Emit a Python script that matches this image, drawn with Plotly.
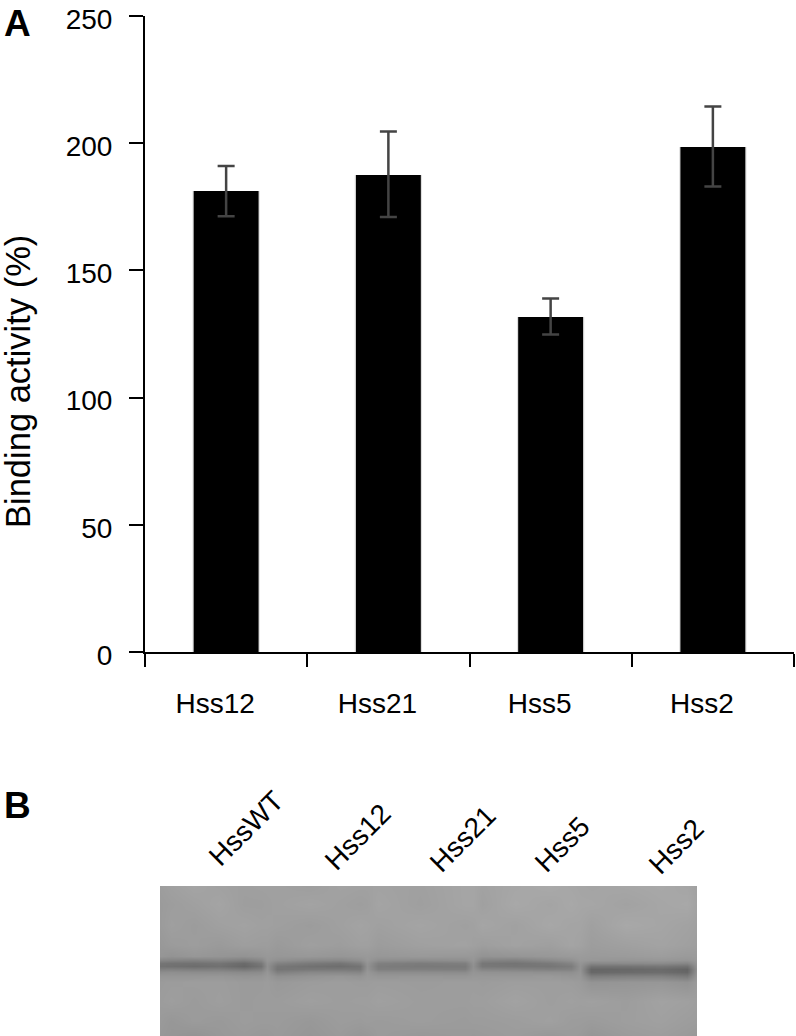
import plotly.graph_objects as go

W, H = 796, 1036

categories = ["Hss12", "Hss21", "Hss5", "Hss2"]
values = [181.2, 187.5, 131.7, 198.5]
err_upper = [191.0, 204.6, 139.0, 214.4]
err_lower = [171.3, 171.0, 124.8, 183.0]
y_ticks = [0, 50, 100, 150, 200, 250]

blot_labels = ["HssWT", "Hss12", "Hss21", "Hss5", "Hss2"]

blot_x = [161, 172, 195, 220, 245, 262, 268, 278, 310, 340, 360, 367, 378,
          420, 465, 473, 482, 515, 550, 570, 579, 590, 625, 660, 686, 696]
blot_y = [887, 905, 925, 945, 956, 960, 963, 966, 969, 972, 976, 982, 1000, 1020, 1035]
blot_grey = [
    [157, 160, 164, 161, 159, 160, 160, 160, 158, 162, 161, 161, 162, 160, 165, 165, 162, 166, 169, 166, 165, 164, 166, 168, 165, 161],
    [155, 157, 160, 164, 158, 158, 159, 160, 163, 160, 158, 159, 164, 159, 165, 165, 160, 168, 164, 168, 166, 166, 162, 166, 168, 162],
    [155, 159, 156, 160, 162, 160, 160, 159, 156, 160, 163, 162, 160, 164, 160, 161, 165, 161, 167, 164, 164, 160, 168, 165, 162, 160],
    [152, 155, 157, 154, 158, 157, 157, 154, 159, 157, 160, 160, 156, 160, 162, 160, 158, 162, 159, 164, 162, 157, 160, 163, 160, 158],
    [150, 147, 151, 149, 147, 150, 152, 151, 152, 150, 152, 153, 151, 153, 152, 152, 147, 149, 152, 154, 155, 154, 155, 157, 154, 155],
    [134, 132, 130, 133, 127, 136, 150, 144, 138, 136, 143, 152, 142, 140, 143, 150, 132, 129, 138, 145, 153, 151, 149, 151, 149, 153],
    [118, 115, 114, 117, 107, 121, 146, 130, 122, 117, 128, 148, 128, 124, 127, 146, 119, 116, 122, 132, 149, 136, 138, 139, 134, 150],
    [114, 113, 109, 113, 103, 115, 144, 119, 113, 110, 116, 146, 124, 121, 122, 144, 120, 118, 118, 124, 147, 116, 116, 119, 114, 148],
    [128, 129, 126, 127, 120, 127, 146, 117, 120, 121, 120, 148, 127, 127, 126, 146, 133, 131, 128, 130, 147, 102, 104, 107, 100, 146],
    [141, 143, 141, 141, 138, 140, 150, 128, 136, 136, 134, 151, 141, 141, 140, 149, 146, 145, 144, 143, 149, 104, 107, 109, 103, 148],
    [150, 150, 150, 151, 148, 149, 153, 144, 148, 151, 148, 153, 150, 151, 150, 152, 152, 152, 153, 150, 151, 126, 129, 130, 122, 151],
    [155, 156, 157, 157, 155, 155, 156, 153, 156, 157, 156, 156, 157, 156, 157, 157, 156, 158, 158, 157, 155, 148, 150, 151, 147, 155],
    [156, 158, 155, 158, 155, 156, 156, 156, 159, 157, 158, 158, 160, 157, 157, 158, 158, 162, 158, 160, 159, 160, 157, 162, 160, 158],
    [154, 151, 155, 153, 156, 155, 155, 155, 152, 156, 155, 156, 155, 157, 155, 156, 156, 157, 160, 156, 156, 155, 158, 160, 157, 156],
    [152, 150, 147, 152, 154, 152, 152, 154, 150, 154, 150, 151, 155, 152, 154, 153, 154, 156, 152, 155, 154, 150, 155, 157, 154, 152],
]

font = "Liberation Sans, Arial, Helvetica, sans-serif"
ink = "#000000"


def px(x):
    return x / W


def py(y):
    return 1 - y / H


fig = go.Figure()
fig.add_trace(go.Bar(
    x=categories, y=values, width=0.415, marker=dict(color="rgba(0,0,0,0.13)", line_width=0),
    hoverinfo="skip", showlegend=False))
fig.add_trace(go.Bar(
    x=categories, y=values, width=0.4, marker=dict(color="#000000", line_width=0),
    error_y=dict(type="data", symmetric=False,
                 array=[u - v for u, v in zip(err_upper, values)],
                 arrayminus=[v - l for l, v in zip(err_lower, values)],
                 color="#444444", thickness=2.5, width=8.5),
    showlegend=False))
fig.add_trace(go.Heatmap(
    x=blot_x, y=blot_y, z=blot_grey, xaxis="x2", yaxis="y2", zmin=0, zmax=255,
    zsmooth="best", showscale=False, hoverinfo="skip",
    colorscale=[[0, "#000000"], [1, "#ffffff"]]))

annotations = [
    dict(text="<b>A</b>", x=px(17), y=py(24)),
    dict(text="<b>B</b>", x=px(17), y=py(805)),
]
for a in annotations:
    a.update(xref="paper", yref="paper", showarrow=False, xanchor="center", yanchor="middle",
             font=dict(family=font, size=37, color=ink))

annotations.append(dict(text="Binding activity (%)", x=px(18), y=py(382), xref="paper", yref="paper",
                        showarrow=False, textangle=-90, xanchor="center", yanchor="middle",
                        font=dict(family=font, size=34.5, color=ink)))

label_pos = [(246, 828), (357, 837), (462, 839), (562, 844), (676, 846)]
for lab, (lx, ly) in zip(blot_labels, label_pos):
    annotations.append(dict(text=lab, x=px(lx), y=py(ly), xref="paper", yref="paper",
                            showarrow=False, textangle=-45, xanchor="center", yanchor="middle",
                            font=dict(family=font, size=28, color=ink)))

fig.update_layout(
    width=W, height=H, margin=dict(l=0, r=0, t=0, b=0, autoexpand=False),
    paper_bgcolor="white", plot_bgcolor="white", barmode="overlay",
    font=dict(family=font, color=ink),
    annotations=annotations,
    xaxis=dict(domain=[px(145), px(794)], anchor="y", type="category", tickson="boundaries",
               automargin=False,
               range=[-0.5, 3.5], showgrid=False, showline=True, linecolor=ink, linewidth=2,
               ticks="outside", ticklen=13, tickwidth=2, tickcolor=ink,
               tickfont=dict(family=font, size=28, color=ink), ticklabelstandoff=25,
               ticklabelshift=-11, zeroline=False),
    yaxis=dict(domain=[py(652), py(16)], anchor="x", range=[0, 250], tickvals=y_ticks,
               automargin=False,
               showgrid=False, showline=True, linecolor=ink, linewidth=2, zeroline=False,
               ticks="outside", ticklen=14, tickwidth=2, tickcolor=ink,
               tickfont=dict(family=font, size=28, color=ink), ticklabelstandoff=11, ticklabelshift=3,
               ticklabeloverflow="allow"),
    xaxis2=dict(domain=[px(160), px(697)], anchor="y2", range=[161, 696], visible=False),
    yaxis2=dict(domain=[0, py(886)], anchor="x2", range=[1035, 887], visible=False),
)

fig.write_html("out.html", config={"displayModeBar": False},
               post_script="document.body.style.margin='0';document.documentElement.style.overflow='hidden';")
